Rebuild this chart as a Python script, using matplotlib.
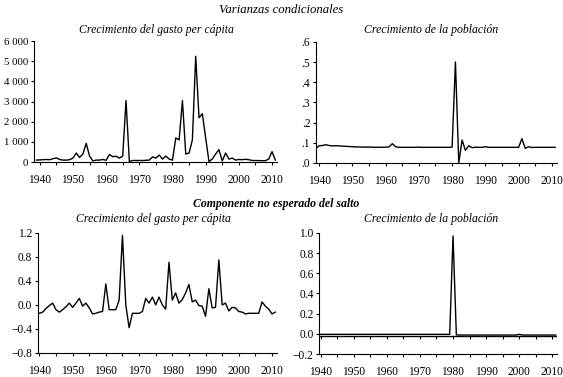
import numpy as np
import matplotlib.pyplot as plt
from matplotlib.ticker import FixedLocator, NullFormatter

plt.rcParams['font.family'] = ['Liberation Serif', 'DejaVu Serif']

years = list(range(1939, 2012))

# varianza condicional, crecimiento del gasto per capita
var_gasto = [100, 110, 120, 130, 120, 170, 210, 130, 100, 100,
             120, 200, 450, 230, 400, 930, 300, 60, 100, 100,
             130, 90, 380, 270, 290, 200, 300, 3050, 30, 80,
             80, 80, 80, 90, 100, 260, 200, 350, 150, 300,
             150, 100, 1200, 1100, 3050, 400, 450, 1100, 5250, 2200,
             2400, 1200, 30, 150, 400, 620, 50, 450, 150, 200,
             100, 130, 120, 140, 120, 80, 80, 75, 70, 70,
             150, 520, 100]

# varianza condicional, crecimiento de la poblacion
var_pob = [0.072, 0.085, 0.086, 0.090, 0.086, 0.084, 0.085, 0.084, 0.083, 0.082,
           0.081, 0.080, 0.079, 0.079, 0.078, 0.078, 0.078, 0.078, 0.077, 0.078,
           0.077, 0.078, 0.079, 0.095, 0.080, 0.077, 0.077, 0.077, 0.077, 0.077,
           0.077, 0.078, 0.077, 0.077, 0.077, 0.077, 0.077, 0.077, 0.077, 0.077,
           0.077, 0.078, 0.500, 0.000, 0.113, 0.062, 0.085, 0.075, 0.078, 0.077,
           0.077, 0.080, 0.077, 0.077, 0.077, 0.077, 0.077, 0.077, 0.077, 0.077,
           0.077, 0.077, 0.120, 0.072, 0.080, 0.076, 0.077, 0.077, 0.077, 0.077,
           0.077, 0.077, 0.077]

# componente no esperado del salto, gasto per capita
salto_gasto = [-0.15, -0.14, -0.12, -0.06, -0.01, 0.03, -0.08, -0.12, -0.08, -0.03,
               0.03, -0.04, 0.03, 0.11, -0.02, 0.03, -0.05, -0.15, -0.14, -0.12,
               -0.11, 0.35, -0.08, -0.08, -0.08, 0.08, 1.16, 0.0, -0.38, -0.14,
               -0.14, -0.14, -0.11, 0.11, 0.03, 0.13, 0.0, 0.13, 0.0, -0.07,
               0.71, 0.08, 0.20, 0.03, 0.09, 0.20, 0.34, 0.05, 0.08, -0.01,
               -0.02, -0.19, 0.27, -0.05, -0.04, 0.75, 0.0, 0.03, -0.10, -0.04,
               -0.05, -0.11, -0.12, -0.15, -0.14, -0.14, -0.14, -0.14, 0.05, -0.02,
               -0.07, -0.15, -0.12]

# componente no esperado del salto, poblacion
salto_pob = [-0.005, -0.005, -0.005, -0.005, -0.005, -0.005, -0.005, -0.005, -0.005, -0.005,
             -0.005, -0.005, -0.005, -0.005, -0.005, -0.005, -0.005, -0.005, -0.005, -0.005,
             -0.005, -0.005, -0.005, -0.005, -0.005, -0.005, -0.005, -0.005, -0.005, -0.005,
             -0.005, -0.005, -0.005, -0.005, -0.005, -0.005, -0.005, -0.005, -0.005, -0.005,
             -0.005, 0.97, -0.01, -0.012, -0.012, -0.012, -0.012, -0.012, -0.012, -0.012,
             -0.012, -0.012, -0.012, -0.012, -0.012, -0.012, -0.012, -0.012, -0.012, -0.012,
             -0.012, -0.005, -0.012, -0.012, -0.012, -0.012, -0.012, -0.012, -0.012, -0.012,
             -0.012, -0.012, -0.012]

fig = plt.figure(figsize=(5.63, 3.77), dpi=100)

def style(ax, xlim):
    for s in ['top', 'right']:
        ax.spines[s].set_visible(False)
    ax.spines['left'].set_linewidth(0.8)
    ax.spines['bottom'].set_linewidth(0.8)
    ax.set_xlim(*xlim)
    ax.xaxis.set_major_locator(FixedLocator(range(1940, 2011, 10)))
    ax.xaxis.set_minor_locator(FixedLocator(range(1945, 2011, 10)))
    ax.tick_params(axis='both', which='both', direction='out', length=2.5, width=0.8,
                   labelsize=8.3, pad=6)
    ax.tick_params(axis='y', pad=1.5)

ax1 = fig.add_axes([0.060, 0.570, 0.432, 0.321])
ax1.plot(years, var_gasto, color='black', lw=1.0)
style(ax1, (1938.2, 2011.5))
ax1.set_ylim(0, 6000)
ax1.set_yticks(range(0, 6001, 1000))
ax1.set_yticklabels(['0', '1 000', '2 000', '3 000', '4 000', '5 000', '6 000'],
                    fontsize=7.8)

ax2 = fig.add_axes([0.561, 0.568, 0.428, 0.321])
ax2.plot(years, var_pob, color='black', lw=1.0)
style(ax2, (1939, 2011.5))
ax2.set_ylim(0, 0.6)
ax2.set_yticks(np.arange(0, 0.61, 0.1))
ax2.set_yticklabels(['.0', '.1', '.2', '.3', '.4', '.5', '.6'])

ax3 = fig.add_axes([0.067, 0.064, 0.425, 0.318])
ax3.plot(years, salto_gasto, color='black', lw=1.0)
style(ax3, (1939.5, 2011.5))
ax3.set_ylim(-0.8, 1.2)
ax3.set_yticks(np.arange(-0.8, 1.21, 0.4))
ax3.set_yticklabels(['\u22120.8', '\u22120.4', '0.0', '0.4', '0.8', '1.2'])

ax4 = fig.add_axes([0.567, 0.061, 0.423, 0.321])
ax4.plot(years, salto_pob, color='black', lw=1.0)
style(ax4, (1939.6, 2011.5))
ax4.set_ylim(-0.2, 1.0)
ax4.set_yticks(np.arange(-0.2, 1.01, 0.2))
ax4.set_yticklabels(['\u22120.2', '0.0', '0.2', '0.4', '0.6', '0.8', '1.0'])
ax4.axhline(-0.025, color='black', lw=1.0)
sec = ax4.secondary_xaxis((-0.025 + 0.2) / 1.2)
sec.xaxis.set_major_locator(FixedLocator(range(1940, 2011, 5)))
sec.xaxis.set_major_formatter(NullFormatter())
sec.spines['bottom'].set_visible(False)
sec.tick_params(direction='out', length=2.5, width=0.8)

fig.text(0.5, 0.973, 'Varianzas condicionales', ha='center', va='center',
         style='italic', fontsize=9.2)
fig.text(0.49, 0.459, 'Componente no esperado del salto', ha='center', va='center',
         style='italic', fontsize=8.5, fontweight='bold')
fig.text(0.277, 0.920, 'Crecimiento del gasto per cápita', ha='center', va='center',
         style='italic', fontsize=8.5)
fig.text(0.765, 0.920, 'Crecimiento de la población', ha='center', va='center',
         style='italic', fontsize=8.5)
fig.text(0.272, 0.419, 'Crecimiento del gasto per cápita', ha='center', va='center',
         style='italic', fontsize=8.5)
fig.text(0.765, 0.419, 'Crecimiento de la población', ha='center', va='center',
         style='italic', fontsize=8.5)

fig.savefig('out.png', dpi=100)
